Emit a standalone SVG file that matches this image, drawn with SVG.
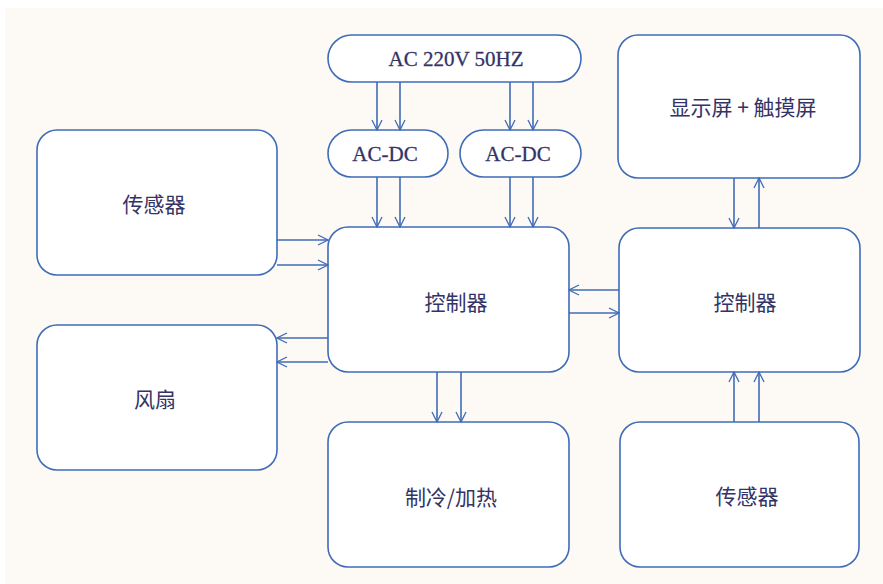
<svg xmlns="http://www.w3.org/2000/svg" width="883" height="584" viewBox="0 0 883 584">
<defs>
<marker id="ah" viewBox="0 0 12 12" refX="11" refY="6" markerWidth="12" markerHeight="12" markerUnits="userSpaceOnUse" orient="auto">
<path d="M1,1 L11,6 L1,11" fill="none" stroke="#3f6cb8" stroke-width="1.3"/>
</marker>
</defs>
<style>
.box{fill:#ffffff;stroke:#3f6cb8;stroke-width:1.6}
.cn{font-family:"Noto Sans CJK SC","Noto Sans",sans-serif;font-size:21px;fill:#333366;text-anchor:middle;dominant-baseline:central}
.en{font-family:"Liberation Serif",serif;font-size:21px;fill:#333366;text-anchor:middle;dominant-baseline:central;stroke:#333366;stroke-width:0.3}
.c{stroke:#3f6cb8;stroke-width:1.6;fill:none;marker-end:url(#ah)}
</style>
<rect x="5" y="8" width="878" height="576" fill="#fdf9f4"/>
<g id="ac">
<rect class="box" x="328" y="35" width="253" height="47" rx="23.5"/>
<text class="en" x="456" y="59">AC 220V 50HZ</text>
</g>
<g id="acdc1">
<rect class="box" x="328" y="130" width="120" height="47" rx="23.5"/>
<text class="en" x="385" y="154">AC-DC</text>
</g>
<g id="acdc2">
<rect class="box" x="460" y="130" width="121" height="47" rx="23.5"/>
<text class="en" x="518" y="154">AC-DC</text>
</g>
<g id="sensor1">
<rect class="box" x="37" y="130" width="240" height="145" rx="20"/>
<text class="cn" x="154" y="203">传感器</text>
</g>
<g id="fan">
<rect class="box" x="37" y="325" width="240" height="145" rx="20"/>
<text class="cn" x="155" y="398">风扇</text>
</g>
<g id="ctrl1">
<rect class="box" x="328" y="227" width="241" height="145" rx="20"/>
<text class="cn" x="456" y="301">控制器</text>
</g>
<g id="hvac">
<rect class="box" x="328" y="422" width="241" height="145" rx="20"/>
<text class="cn" x="451" y="496">制冷/加热</text>
</g>
<g id="display">
<rect class="box" x="618" y="35" width="242" height="143" rx="20"/>
<text class="cn" x="743" y="106">显示屏 + 触摸屏</text>
</g>
<g id="ctrl2">
<rect class="box" x="619" y="228" width="241" height="144" rx="20"/>
<text class="cn" x="745" y="301">控制器</text>
</g>
<g id="sensor2">
<rect class="box" x="620" y="422" width="239" height="145" rx="20"/>
<text class="cn" x="747" y="495">传感器</text>
</g>
<g id="connectors">
<line class="c" x1="377" y1="82" x2="377" y2="130"/>
<line class="c" x1="400" y1="82" x2="400" y2="130"/>
<line class="c" x1="510" y1="82" x2="510" y2="130"/>
<line class="c" x1="533" y1="82" x2="533" y2="130"/>
<line class="c" x1="377" y1="177" x2="377" y2="227"/>
<line class="c" x1="400" y1="177" x2="400" y2="227"/>
<line class="c" x1="510" y1="177" x2="510" y2="227"/>
<line class="c" x1="533" y1="177" x2="533" y2="227"/>
<line class="c" x1="277" y1="240" x2="328" y2="240"/>
<line class="c" x1="277" y1="265" x2="328" y2="265"/>
<line class="c" x1="328" y1="338" x2="277" y2="338"/>
<line class="c" x1="328" y1="362" x2="277" y2="362"/>
<line class="c" x1="619" y1="290" x2="569" y2="290"/>
<line class="c" x1="569" y1="313" x2="619" y2="313"/>
<line class="c" x1="437" y1="372" x2="437" y2="422"/>
<line class="c" x1="461" y1="372" x2="461" y2="422"/>
<line class="c" x1="734" y1="178" x2="734" y2="228"/>
<line class="c" x1="759" y1="228" x2="759" y2="178"/>
<line class="c" x1="734" y1="422" x2="734" y2="372"/>
<line class="c" x1="759" y1="422" x2="759" y2="372"/>
</g>
</svg>
